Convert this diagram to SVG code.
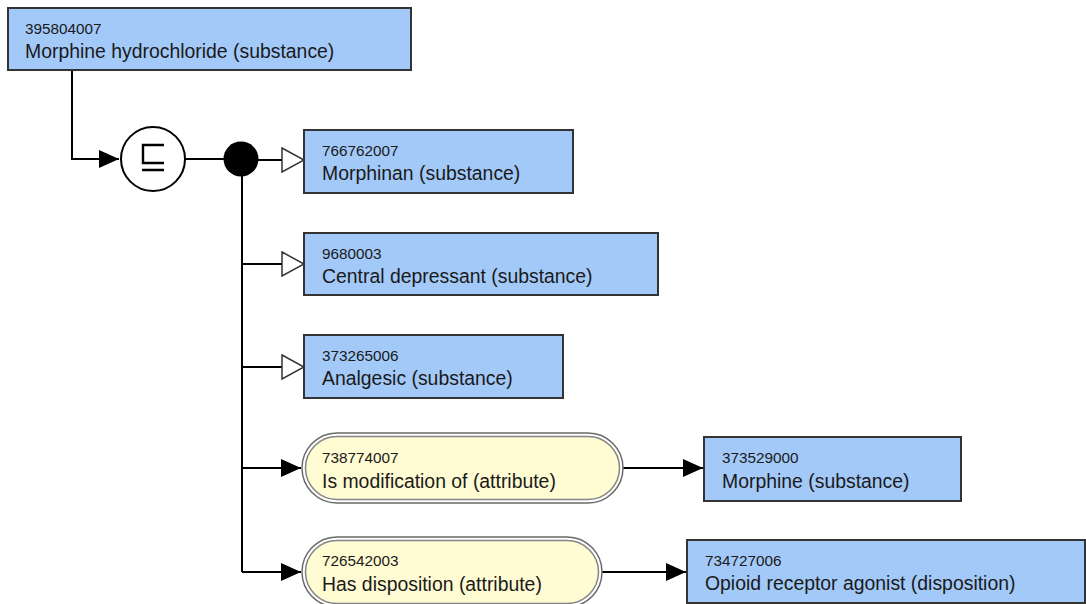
<svg xmlns="http://www.w3.org/2000/svg" width="1086" height="604" viewBox="0 0 1086 604">
<defs>
<style>
.c{fill:#a2c9f8;stroke:#333;stroke-width:2}
.ao{fill:#fff;stroke:#6a6a6a;stroke-width:1.5}
.ai{fill:#fffbd2;stroke:#858585;stroke-width:1.5}
.id{font-family:"Liberation Sans",Arial,sans-serif;font-size:15.3px;fill:#1a1a1a}
.lb{font-family:"Liberation Sans",Arial,sans-serif;font-size:19.4px;fill:#1a1a1a}
.ln{fill:none;stroke:#000;stroke-width:2}
</style>
<marker id="fa" viewBox="0 0 20 18" refX="20" refY="9" markerWidth="20" markerHeight="18" markerUnits="userSpaceOnUse" orient="auto">
<path d="M0,0 L20,9 L0,18 Z" fill="#000"/>
</marker>
<marker id="ha" viewBox="-1 -1 24 26" refX="22" refY="12" markerWidth="24" markerHeight="26" markerUnits="userSpaceOnUse" orient="auto">
<path d="M0,0 L22,12 L0,24 Z" fill="#fff" stroke="#333" stroke-width="1.5"/>
</marker>
</defs>
<rect width="1086" height="604" fill="#fff"/>
<g id="connectors">
<path class="ln" d="M72,70 V159 H119" marker-end="url(#fa)"/>
<path class="ln" d="M185,159 H224"/>
<path class="ln" d="M241,160 H304" marker-end="url(#ha)"/>
<path class="ln" d="M242,176 V572"/>
<path class="ln" d="M242,264 H304" marker-end="url(#ha)"/>
<path class="ln" d="M242,367 H304" marker-end="url(#ha)"/>
<path class="ln" d="M242,468 H301" marker-end="url(#fa)"/>
<path class="ln" d="M242,572 H301" marker-end="url(#fa)"/>
<path class="ln" d="M623,468 H703" marker-end="url(#fa)"/>
<path class="ln" d="M602,572 H686" marker-end="url(#fa)"/>
</g>
<g id="n395804007">
<rect class="c" x="8" y="8" width="403" height="62"/>
<text class="id" x="25" y="34">395804007</text>
<text class="lb" x="25" y="58">Morphine hydrochloride (substance)</text>
</g>
<g id="subsumption">
<circle cx="153" cy="159" r="32" fill="#fff" stroke="#000" stroke-width="2"/>
<path d="M164,145 H143 V163 H164 M142,170 H164" fill="none" stroke="#000" stroke-width="2.4"/>
</g>
<g id="conjunction">
<circle cx="241" cy="159" r="17.5" fill="#000"/>
</g>
<g id="n766762007">
<rect class="c" x="304" y="130" width="269" height="63"/>
<text class="id" x="322" y="156">766762007</text>
<text class="lb" x="322" y="180">Morphinan (substance)</text>
</g>
<g id="n9680003">
<rect class="c" x="304" y="233" width="354" height="62"/>
<text class="id" x="322" y="259">9680003</text>
<text class="lb" x="322" y="283">Central depressant (substance)</text>
</g>
<g id="n373265006">
<rect class="c" x="304" y="335" width="259" height="63"/>
<text class="id" x="322" y="361">373265006</text>
<text class="lb" x="322" y="385">Analgesic (substance)</text>
</g>
<g id="a738774007">
<rect class="ao" x="302" y="433" width="321" height="70" rx="35"/>
<rect class="ai" x="305.5" y="436.5" width="314" height="63" rx="31.5"/>
<text class="id" x="322" y="463">738774007</text>
<text class="lb" x="322" y="488">Is modification of (attribute)</text>
</g>
<g id="n373529000">
<rect class="c" x="704" y="437" width="257" height="64"/>
<text class="id" x="722" y="463">373529000</text>
<text class="lb" x="722" y="488">Morphine (substance)</text>
</g>
<g id="a726542003">
<rect class="ao" x="302" y="537" width="300" height="70" rx="35"/>
<rect class="ai" x="305.5" y="540.5" width="293" height="63" rx="31.5"/>
<text class="id" x="322" y="566">726542003</text>
<text class="lb" x="322" y="591">Has disposition (attribute)</text>
</g>
<g id="n734727006">
<rect class="c" x="687" y="540" width="398" height="63"/>
<text class="id" x="705" y="566">734727006</text>
<text class="lb" x="705" y="590">Opioid receptor agonist (disposition)</text>
</g>
</svg>
